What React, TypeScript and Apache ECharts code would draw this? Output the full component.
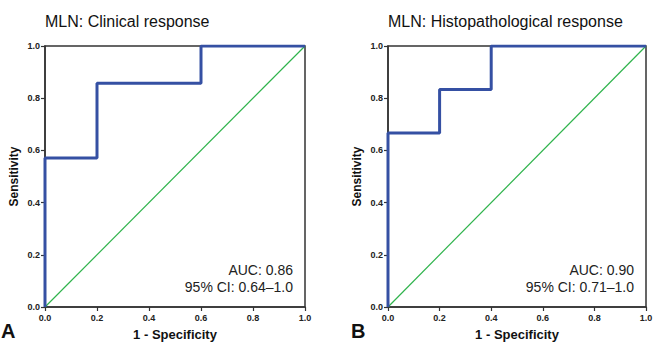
import React, { useEffect, useRef } from "react";
import * as echarts from "echarts";

// ROC step curves (1 - specificity, sensitivity)
const clinicalFpr = [0, 0, 0.2, 0.2, 0.6, 0.6, 1.0];
const clinicalTpr = [0, 0.571, 0.571, 0.857, 0.857, 1.0, 1.0];
const histoFpr = [0, 0, 0.2, 0.2, 0.4, 0.4, 1.0];
const histoTpr = [0, 0.667, 0.667, 0.833, 0.833, 1.0, 1.0];
// Reference line
const refLine = [0, 1];

const panelTitles = ["MLN: Clinical response", "MLN: Histopathological response"];
const panelLetters = ["A", "B"];
const aucLabels = ["AUC: 0.86", "AUC: 0.90"];
const ciLabels = ["95% CI: 0.64\u20131.0", "95% CI: 0.71\u20131.0"];
const tickValues = [0, 0.2, 0.4, 0.6, 0.8, 1.0];

const FONT = "'Liberation Sans', Arial, Helvetica, sans-serif";
const BLUE = "#3550a3";
const GREEN = "#2fb34c";
const AXIS = "#333333";

const grids = [
  { left: 45, top: 46, width: 260, height: 261 },
  { left: 388, top: 46, width: 258, height: 261 },
];

export default function App() {
  const ref = useRef<HTMLDivElement>(null);

  useEffect(() => {
    if (!ref.current) return;
    const chart = echarts.init(ref.current, null, { renderer: "svg" });

    const axisCommon = {
      type: "value" as const,
      min: tickValues[0],
      max: tickValues[tickValues.length - 1],
      interval: 0.2,
      splitLine: { show: false },
      axisLine: { show: true, lineStyle: { color: AXIS, width: 1.5 } },
      axisTick: { show: true, length: 4, lineStyle: { color: AXIS, width: 1.2 } },
      axisLabel: {
        fontFamily: FONT,
        fontSize: 9,
        fontWeight: "bold" as const,
        color: "#222",
        formatter: (v: number) => v.toFixed(1),
      },
    };

    const xAxes = grids.map((_, i) => ({
      ...axisCommon,
      gridIndex: i,
      name: "1 - Specificity",
      nameLocation: "middle" as const,
      nameGap: 21,
      nameTextStyle: { fontFamily: FONT, fontSize: 13, fontWeight: "bold" as const, color: "#111" },
      axisLabel: { ...axisCommon.axisLabel, margin: 6 },
    }));

    const yAxes = grids.map((_, i) => ({
      ...axisCommon,
      gridIndex: i,
      name: "Sensitivity",
      nameLocation: "middle" as const,
      nameGap: 25,
      nameTextStyle: { fontFamily: FONT, fontSize: 12, fontWeight: "bold" as const, color: "#111" },
      axisLabel: { ...axisCommon.axisLabel, margin: 5 },
    }));

    const curves = [
      clinicalFpr.map((x, i) => [x, clinicalTpr[i]]),
      histoFpr.map((x, i) => [x, histoTpr[i]]),
    ];

    const series: any[] = [];
    grids.forEach((_, i) => {
      series.push({
        type: "line",
        xAxisIndex: i,
        yAxisIndex: i,
        data: refLine.map((v) => [v, v]),
        showSymbol: false,
        lineStyle: { color: GREEN, width: 1.2 },
        z: 2,
      });
      series.push({
        type: "line",
        xAxisIndex: i,
        yAxisIndex: i,
        data: curves[i],
        showSymbol: false,
        lineStyle: { color: BLUE, width: 3 },
        z: 3,
      });
    });

    const graphic: any[] = [];
    grids.forEach((g, i) => {
      graphic.push({
        type: "text",
        left: g.left,
        top: 13,
        style: { text: panelTitles[i], font: `16px ${FONT}`, fill: "#111" },
      });
      graphic.push({
        type: "text",
        x: g.left + g.width - 12,
        y: 270,
        style: {
          text: aucLabels[i],
          font: `14px ${FONT}`,
          fill: "#222",
          align: "right",
          verticalAlign: "middle",
        },
      });
      graphic.push({
        type: "text",
        x: g.left + g.width - 12,
        y: 287,
        style: {
          text: ciLabels[i],
          font: `14px ${FONT}`,
          fill: "#222",
          align: "right",
          verticalAlign: "middle",
        },
      });
      graphic.push({
        type: "text",
        x: i === 0 ? 1 : 351,
        y: 341,
        style: {
          text: panelLetters[i],
          font: `bold 20px ${FONT}`,
          fill: "#111",
          verticalAlign: "bottom",
        },
      });
    });

    chart.setOption({
      animation: false,
      backgroundColor: "#ffffff",
      grid: grids.map((g) => ({
        ...g,
        show: true,
        borderColor: AXIS,
        borderWidth: 1.5,
        backgroundColor: "transparent",
        containLabel: false,
        outerBoundsMode: "none",
      })),
      xAxis: xAxes,
      yAxis: yAxes,
      series,
      graphic,
    });

    return () => chart.dispose();
  }, []);

  return (
    <div
      ref={ref}
      style={{ position: "fixed", left: 0, top: 0, width: 653, height: 342 }}
    />
  );
}
